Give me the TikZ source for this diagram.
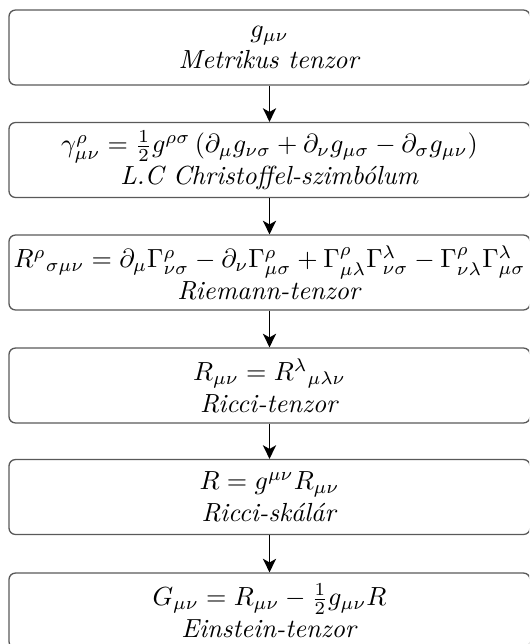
\documentclass[tikz,border=0pt]{standalone}
\usetikzlibrary{arrows.meta}
\begin{document}
\begin{tikzpicture}[x=0.382pt,y=-0.382pt,
  stepbox/.style={draw=black!65,line width=0.5pt,rounded corners=2.4pt,
    minimum width=199pt,minimum height=28.6pt,align=center,inner sep=0pt},
  flow/.style={line width=0.75pt,-{Stealth[length=5.2pt,width=5pt,inset=1.4pt]}}]
\clip (0,0) rectangle (529,644);
\useasboundingbox (0,0) rectangle (529,644);
\node[stepbox] (n1) at (269.5,47.5) {$g_{\mu\nu}$\\ \textit{Metrikus tenzor}};
\node[stepbox] (n2) at (269.5,160) {$\gamma^\rho_{\mu\nu} = \frac12 g^{\rho\sigma}\left(\partial_\mu g_{\nu\sigma} + \partial_\nu g_{\mu\sigma} - \partial_\sigma g_{\mu\nu}\right)$\\ \textit{L.C Christoffel-szimbólum}};
\node[stepbox] (n3) at (269.5,272.5) {$R^\rho{}_{\sigma\mu\nu} = \partial_\mu\Gamma^\rho_{\nu\sigma} - \partial_\nu\Gamma^\rho_{\mu\sigma} + \Gamma^\rho_{\mu\lambda}\Gamma^\lambda_{\nu\sigma} - \Gamma^\rho_{\nu\lambda}\Gamma^\lambda_{\mu\sigma}$\\ \textit{Riemann-tenzor}};
\node[stepbox] (n4) at (269.5,385.5) {$R_{\mu\nu} = R^\lambda{}_{\mu\lambda\nu}$\\ \textit{Ricci-tenzor}};
\node[stepbox] (n5) at (269.5,497) {$R = g^{\mu\nu}R_{\mu\nu}$\\ \textit{Ricci-skálár}};
\node[stepbox] (n6) at (269.5,610.5) {$G_{\mu\nu} = R_{\mu\nu} - \frac12 g_{\mu\nu}R$\\ \textit{Einstein-tenzor}};
\foreach \a/\b in {n1/n2,n2/n3,n3/n4,n4/n5,n5/n6}
  \draw[flow] (\a.south) -- (\b.north);
\end{tikzpicture}
\end{document}
